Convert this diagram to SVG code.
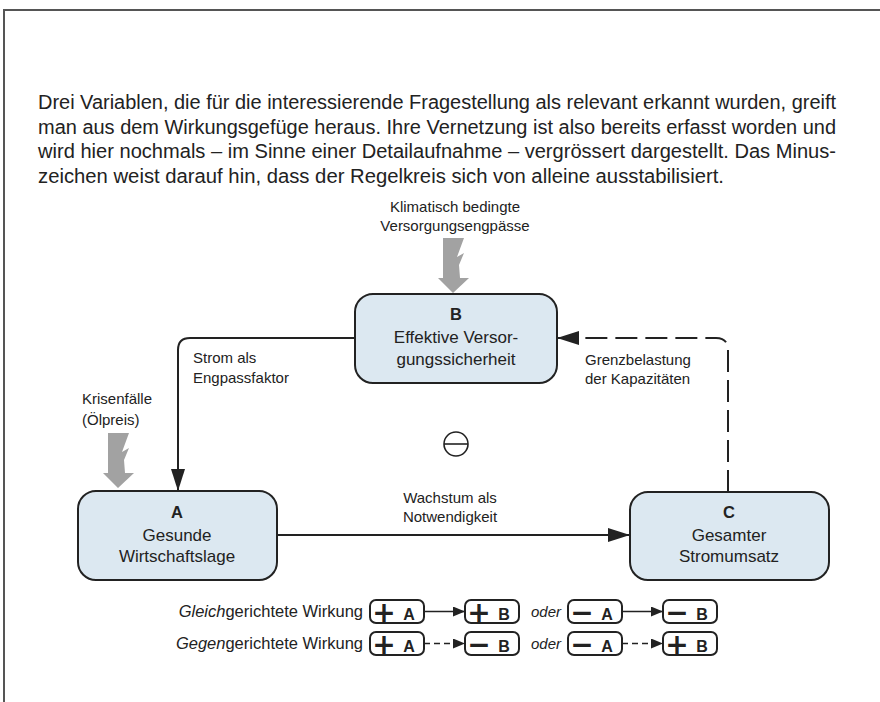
<svg xmlns="http://www.w3.org/2000/svg" width="880" height="702" viewBox="0 0 880 702">
<style>
  .t { font-family: "Liberation Sans", Arial, sans-serif; fill: #222; }
  .para { font-size: 19.5px; }
  .lab { font-size: 15px; }
  .nd { font-size: 17px; text-anchor: middle; }
  .ndb { font-size: 16.5px; font-weight: bold; text-anchor: middle; }
  .node { fill: #dce8f1; stroke: #222; stroke-width: 2; }
  .conn { fill: none; stroke: #222; stroke-width: 2; }
  .dash { stroke-dasharray: 22 8; }
  .bolt { fill: #a2a2a2; }
  .lg { font-size: 16.5px; text-anchor: end; }
  .oder { font-size: 15px; font-style: italic; }
  .lbox { fill: #fff; stroke: #222; stroke-width: 2; }
  .sym { font-family: "DejaVu Sans", sans-serif; font-weight: bold; font-size: 28px; text-anchor: middle; fill: #222; }
  .let { font-size: 16px; font-weight: bold; text-anchor: middle; }
  .lline { fill: none; stroke: #222; stroke-width: 1.6; }
</style>
<defs>
  <marker id="big" viewBox="0 0 22 14" refX="22" refY="7" markerWidth="22" markerHeight="14" markerUnits="userSpaceOnUse" orient="auto">
    <path d="M0,0 L22,7 L0,14 z" fill="#222"/>
  </marker>
  <marker id="small" viewBox="0 0 12 10" refX="12" refY="5" markerWidth="12" markerHeight="10" markerUnits="userSpaceOnUse" orient="auto">
    <path d="M0,0 L12,5 L0,10 z" fill="#222"/>
  </marker>
  <path id="boltshape" d="M443,238 L464,238 L457,257 L464,253 L459,265 L460,278 L469,278 L453,293 L438,278 L443,278 z"/>
</defs>
<rect x="0" y="0" width="880" height="702" fill="#fff"/>
<path d="M4,702 V10 H880" fill="none" stroke="#555" stroke-width="2"/>

<g id="intro" class="t para">
  <text x="38" y="109" textLength="798" lengthAdjust="spacingAndGlyphs">Drei Variablen, die für die interessierende Fragestellung als relevant erkannt wurden, greift</text>
  <text x="38" y="133.5" textLength="798" lengthAdjust="spacingAndGlyphs">man aus dem Wirkungsgefüge heraus. Ihre Vernetzung ist also bereits erfasst worden und</text>
  <text x="38" y="158" textLength="798" lengthAdjust="spacingAndGlyphs">wird hier nochmals – im Sinne einer Detailaufnahme – vergrössert dargestellt. Das Minus-</text>
  <text x="38" y="182.5" textLength="686" lengthAdjust="spacingAndGlyphs">zeichen weist darauf hin, dass der Regelkreis sich von alleine ausstabilisiert.</text>
</g>

<g id="connectors">
  <path class="conn" d="M355,338 H190 Q178,338 178,350 V491" marker-end="url(#big)"/>
  <path class="conn" d="M277,535 H630" marker-end="url(#big)"/>
  <path class="conn dash" d="M728,492 V350 Q728,338 716,338 H557" marker-end="url(#big)"/>
</g>

<g id="label-strom" class="t lab">
  <text x="193" y="363">Strom als</text>
  <text x="193" y="383">Engpassfaktor</text>
</g>
<g id="label-grenz" class="t lab">
  <text x="585" y="365">Grenzbelastung</text>
  <text x="585" y="384">der Kapazitäten</text>
</g>
<g id="label-wachstum" class="t lab" text-anchor="middle">
  <text x="450" y="503">Wachstum als</text>
  <text x="450" y="522">Notwendigkeit</text>
</g>

<g id="influence-klima">
  <text class="t lab" x="455" y="212" text-anchor="middle">Klimatisch bedingte</text>
  <text class="t lab" x="455" y="231" text-anchor="middle">Versorgungsengpässe</text>
  <use href="#boltshape" class="bolt"/>
</g>
<g id="influence-krise">
  <text class="t lab" x="82" y="404">Krisenfälle</text>
  <text class="t lab" x="82" y="425">(Ölpreis)</text>
  <use href="#boltshape" class="bolt" transform="translate(-335,195)"/>
</g>

<g id="node-B">
  <rect class="node" x="355" y="294" width="202" height="89" rx="18"/>
  <text class="t ndb" x="456" y="320">B</text>
  <text class="t nd" x="456" y="343">Effektive Versor-</text>
  <text class="t nd" x="456" y="365">gungssicherheit</text>
</g>
<g id="node-A">
  <rect class="node" x="78" y="491" width="199" height="89" rx="18"/>
  <text class="t ndb" x="177" y="518">A</text>
  <text class="t nd" x="177" y="541">Gesunde</text>
  <text class="t nd" x="177" y="562">Wirtschaftslage</text>
</g>
<g id="node-C">
  <rect class="node" x="630" y="492" width="199" height="88" rx="18"/>
  <text class="t ndb" x="729" y="518">C</text>
  <text class="t nd" x="729" y="541">Gesamter</text>
  <text class="t nd" x="729" y="562">Stromumsatz</text>
</g>

<g id="loop-sign">
  <circle cx="456" cy="444" r="12" fill="none" stroke="#222" stroke-width="1.6"/>
  <line x1="444" y1="444" x2="468" y2="444" stroke="#222" stroke-width="1.6"/>
</g>

<g id="legend">
  <text class="t lg" x="363" y="617"><tspan font-style="italic">Gleich</tspan>gerichtete Wirkung</text>
  <text class="t lg" x="363" y="649"><tspan font-style="italic">Gegen</tspan>gerichtete Wirkung</text>
  <text class="t oder" x="531" y="617">oder</text>
  <text class="t oder" x="531" y="649">oder</text>

  <rect class="lbox" x="370" y="600" width="54" height="23" rx="6"/>
  <text class="sym" x="384" y="621.5">+</text><text class="t let" x="409" y="620">A</text>
  <rect class="lbox" x="465" y="600" width="54" height="23" rx="6"/>
  <text class="sym" x="479" y="621.5">+</text><text class="t let" x="504" y="620">B</text>
  <rect class="lbox" x="568" y="600" width="54" height="23" rx="6"/>
  <text class="sym" x="582" y="621.5">−</text><text class="t let" x="607" y="620">A</text>
  <rect class="lbox" x="663" y="600" width="54" height="23" rx="6"/>
  <text class="sym" x="677" y="621.5">−</text><text class="t let" x="702" y="620">B</text>

  <rect class="lbox" x="370" y="632" width="54" height="23" rx="6"/>
  <text class="sym" x="384" y="653.5">+</text><text class="t let" x="409" y="652">A</text>
  <rect class="lbox" x="465" y="632" width="54" height="23" rx="6"/>
  <text class="sym" x="479" y="653.5">−</text><text class="t let" x="504" y="652">B</text>
  <rect class="lbox" x="568" y="632" width="54" height="23" rx="6"/>
  <text class="sym" x="582" y="653.5">−</text><text class="t let" x="607" y="652">A</text>
  <rect class="lbox" x="663" y="632" width="54" height="23" rx="6"/>
  <text class="sym" x="677" y="653.5">+</text><text class="t let" x="702" y="652">B</text>

  <path class="lline" d="M424,611.5 H465" marker-end="url(#small)"/>
  <path class="lline" d="M622,611.5 H663" marker-end="url(#small)"/>
  <path class="lline" d="M424,643.5 H465" stroke-dasharray="6 4" marker-end="url(#small)"/>
  <path class="lline" d="M622,643.5 H663" stroke-dasharray="6 4" marker-end="url(#small)"/>
</g>
</svg>
